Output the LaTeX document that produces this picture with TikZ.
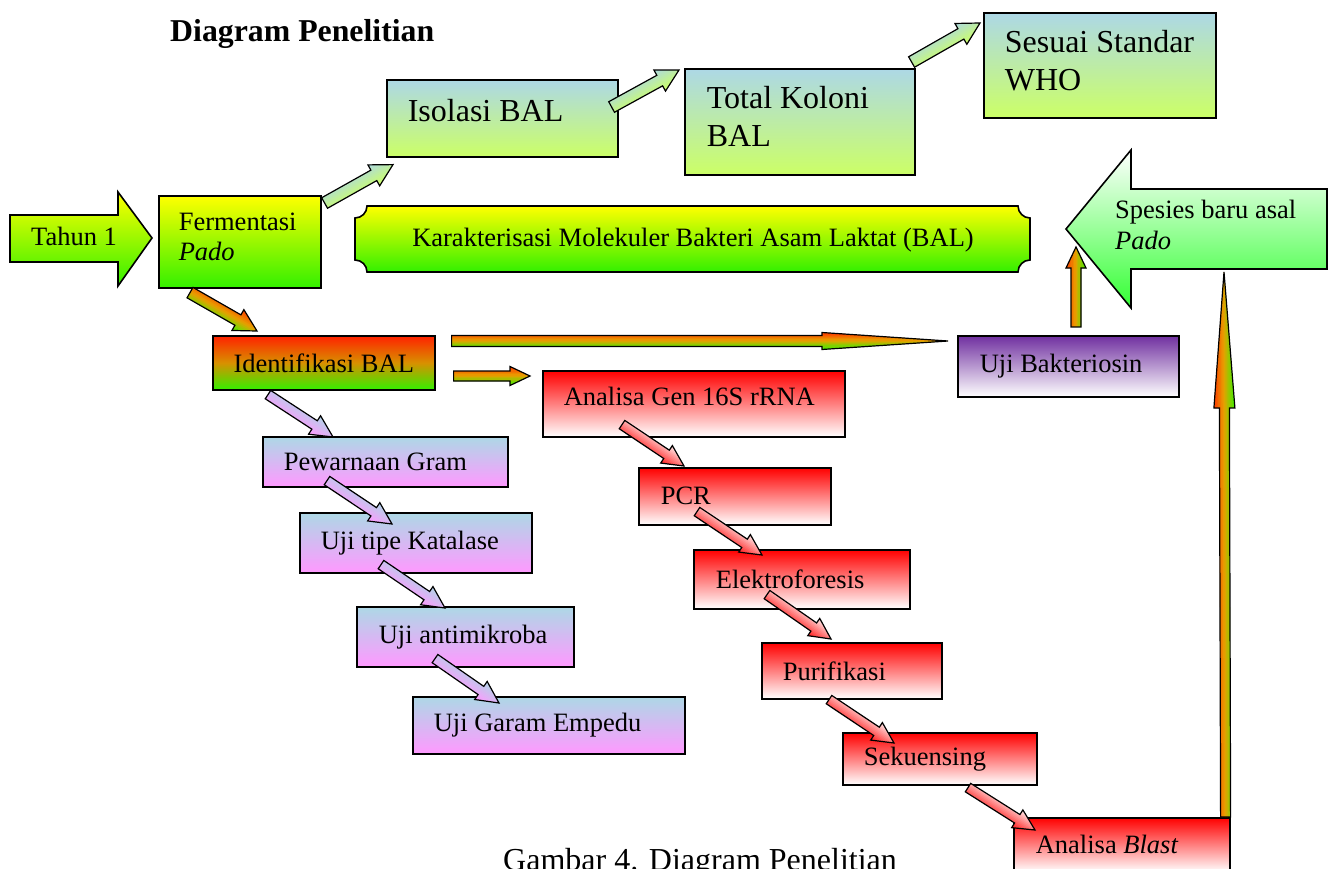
\documentclass[tikz,border=0pt]{standalone}
\usepackage{fontspec}
\setmainfont{Liberation Serif}
\usetikzlibrary{calc}
\definecolor{ylw}{HTML}{FFFF00}
\definecolor{grn}{HTML}{33F000}
\definecolor{lblue}{HTML}{ADD8E6}
\definecolor{lyg}{HTML}{CCFF66}
\definecolor{lpink}{HTML}{FF99FF}
\definecolor{rtop}{HTML}{FF0000}
\definecolor{purp}{HTML}{7030A0}
\definecolor{rgtop}{HTML}{FF2200}
\definecolor{rgmid}{HTML}{D89000}
\definecolor{sgrn}{HTML}{33FF33}
\definecolor{ogL}{HTML}{FF3300}
\definecolor{ogM}{HTML}{E8A000}
\definecolor{ogR}{HTML}{44EE00}
\colorlet{bgM}{lblue!50!lyg}
\colorlet{lpM}{lblue!50!lpink}
\definecolor{rdL}{HTML}{FFF0F0}
\definecolor{rdR}{HTML}{FF2020}
\colorlet{rdM}{rdL!50!rdR}
\newcommand\fsN{\fontsize{26.5pt}{30pt}\selectfont}
\newcommand\fsL{\fontsize{32pt}{38pt}\selectfont}
% block arrow: #1 left colour, #2 middle colour, #3 right colour, #4 start, #5 tip,
% #6 shaft half width, #7 head half width, #8 head length
\newcommand\blockarrow[8]{%
  \coordinate (bas) at #4;
  \coordinate (bae) at #5;
  \coordinate (bah) at ($(bae)!#8pt!(bas)$);
  \begin{scope}
    \clip ($(bas)!#6pt!90:(bae)$) -- ($(bah)!#6pt!90:(bae)$) -- ($(bah)!#7pt!90:(bae)$) -- (bae)
      -- ($(bah)!#7pt!-90:(bae)$) -- ($(bah)!#6pt!-90:(bae)$) -- ($(bas)!#6pt!-90:(bae)$) -- cycle;
    \foreach \k in {0,...,13}{%
      \pgfmathsetmacro\bofa{#7-2*#7*\k/14+0.4}%
      \pgfmathsetmacro\bofb{#7-2*#7*(\k+1)/14-0.4}%
      \pgfmathsetmacro\bt{(\k+0.5)/14}%
      \ifdim\bt pt<0.5pt
        \pgfmathsetmacro\bmix{100-200*\bt}%
        \fill[#1!\bmix!#2] ($(bas)!\bofa pt!90:(bae)$) -- ($(bae)!\bofa pt!-90:(bas)$) -- ($(bae)!\bofb pt!-90:(bas)$) -- ($(bas)!\bofb pt!90:(bae)$) -- cycle;
      \else
        \pgfmathsetmacro\bmix{200-200*\bt}%
        \fill[#2!\bmix!#3] ($(bas)!\bofa pt!90:(bae)$) -- ($(bae)!\bofa pt!-90:(bas)$) -- ($(bae)!\bofb pt!-90:(bas)$) -- ($(bas)!\bofb pt!90:(bae)$) -- cycle;
      \fi
    }
  \end{scope}
  \draw[arrline] ($(bas)!#6pt!90:(bae)$) -- ($(bah)!#6pt!90:(bae)$) -- ($(bah)!#7pt!90:(bae)$) -- (bae)
      -- ($(bah)!#7pt!-90:(bae)$) -- ($(bah)!#6pt!-90:(bae)$) -- ($(bas)!#6pt!-90:(bae)$) -- cycle;
}
\begin{document}
\begin{tikzpicture}[x=1pt,y=-1pt,
  box/.style={draw=black, line width=1.6pt, anchor=north west, inner ysep=0pt, align=flush left, font=\fsN},
  bigbox/.style={box, font=\fsL},
  yg/.style={top color=ylw, bottom color=grn},
  bly/.style={top color=lblue, bottom color=lyg},
  blp/.style={top color=lblue, bottom color=lpink},
  rw/.style={top color=rtop, bottom color=white},
  pw/.style={top color=purp, bottom color=white},
  rg/.style={top color=rgtop, bottom color=grn, middle color=rgmid},
  outline/.style={draw=black, line width=1.6pt},
  arrline/.style={draw=black, line width=1.2pt, line join=miter},
  plain/.style={inner sep=0pt, font=\fsN}]
\useasboundingbox (0,0) rectangle (1330,869);
\clip (0,0) rectangle (1330,869);
\fill[white] (0,0) rectangle (1330,869);

% title and caption
\node[anchor=base west, inner sep=0pt, font=\bfseries\fontsize{31.8pt}{38pt}\selectfont] (title) at (170,42) {Diagram Penelitian};
\node[anchor=base west, inner sep=0pt, font=\fsL] (caption) at (503,870) {Gambar 4. Diagram Penelitian};

% Tahun 1 block arrow
\path[outline, yg] (10,215) -- (118,215) -- (118,192) -- (152,238) -- (118,286) -- (118,262) -- (10,262) -- cycle;
\node[plain] (tahun) at (74,236) {Tahun 1};

% Spesies block arrow
\path[outline, top color=white, bottom color=sgrn] (1327,189) -- (1131,189) -- (1131,150) -- (1066,229) -- (1131,308) -- (1131,269) -- (1327,269) -- cycle;
\node[plain, anchor=north west, align=flush left, font=\fontsize{26.5pt}{31pt}\selectfont] (spes) at (1115,200) {Spesies baru asal\\\textit{Pado}};

% banner
\path[outline, yg] (367,206) -- (1018,206) .. controls (1018,212.6) and (1023.4,218) .. (1030,218)
  -- (1030,260) .. controls (1023.4,260) and (1018,265.4) .. (1018,272)
  -- (367,272) .. controls (367,265.4) and (361.6,260) .. (355,260)
  -- (355,218) .. controls (361.6,218) and (367,212.6) .. (367,206) -- cycle;
\node[plain] (karak) at (693,240) {Karakterisasi Molekuler Bakteri Asam Laktat (BAL)};

% boxes
\node[bigbox, bly, minimum width=231, minimum height=77, inner xsep=21, text width=189, text depth=15] (iso) at (386,79) {Isolasi BAL};
\node[bigbox, bly, minimum width=230, minimum height=106, inner xsep=22, text width=186, text depth=48] (total) at (684,68) {Total Koloni\\BAL};
\node[bigbox, bly, minimum width=232, minimum height=105, inner xsep=21, text width=190, text depth=47] (who) at (983,12) {\mbox{Sesuai Standar}\\WHO};
\node[box, yg, minimum width=162, minimum height=92, inner xsep=20, text width=122, text depth=40] (ferm) at (158,195) {Fermentasi\\\textit{Pado}};
\node[box, rg, minimum width=222, minimum height=54, align=center, inner xsep=0pt] (ident) at (212,335) {Identifikasi BAL};
\node[box, rw, minimum width=302, minimum height=66, inner xsep=21, text width=260, text depth=14] (analisa) at (542,370) {Analisa Gen 16S rRNA};
\node[box, rw, minimum width=192, minimum height=57, inner xsep=22, text width=148] (pcr) at (638,467) {PCR};
\node[box, rw, minimum width=216, minimum height=59, inner xsep=22, text width=172] (elek) at (693,549) {Elektroforesis};
\node[box, rw, minimum width=180, minimum height=56, inner xsep=21, text width=138] (puri) at (761,642) {Purifikasi};
\node[box, rw, minimum width=194, minimum height=52, inner xsep=21, text width=152] (sek) at (842,732) {Sekuensing};
\node[box, rw, minimum width=216, minimum height=54, inner xsep=22, text width=172] (blast) at (1013,817) {Analisa \textit{Blast}};
\node[box, pw, minimum width=221, minimum height=61, inner xsep=22, text width=177] (bakt) at (957,335) {\mbox{Uji Bakteriosin}};
\node[box, blp, minimum width=245, minimum height=50, inner xsep=21, text width=203] (gram) at (262,436) {Pewarnaan Gram};
\node[box, blp, minimum width=232, minimum height=60, inner xsep=21, text width=190] (kat) at (299,512) {\mbox{Uji tipe Katalase}};
\node[box, blp, minimum width=217, minimum height=60, inner xsep=22, text width=173] (anti) at (356,606) {\mbox{Uji antimikroba}};
\node[box, blp, minimum width=272, minimum height=57, inner xsep=21, text width=230] (empedu) at (412,696) {Uji Garam Empedu};

% connectors
\blockarrow{ogL}{ogM}{ogR}{($(ferm.south west)+(32,4)$)}{($(ident.north west)+(45,-4)$)}{6}{12}{22}
\blockarrow{lblue}{bgM}{lyg}{($(ferm.north east)+(3,8)$)}{($(iso.south west)+(7,7)$)}{6}{12}{22}
\blockarrow{lblue}{bgM}{lyg}{($(iso.north east)+(-7,28)$)}{($(total.north west)+(-5,2)$)}{6}{12}{22}
\blockarrow{lblue}{bgM}{lyg}{($(total.north east)+(-4,-6)$)}{($(who.north west)+(-3,11)$)}{6}{12}{22}
\blockarrow{ogL}{ogM}{ogR}{($(ident.north east)+(16,6)$)}{($(bakt.north west)+(-9,6)$)}{5.5}{8.5}{126}
\blockarrow{ogL}{ogM}{ogR}{($(ident.north east)+(18,41)$)}{($(analisa.north west)+(-12,6)$)}{5}{9.5}{20}
\blockarrow{ogL}{ogM}{ogR}{($(bakt.north west)+(119,-8)$)}{($(spes.north west)+(-39,47)$)}{5}{10}{21}
\blockarrow{ogL}{ogM}{ogR}{($(blast.north east)+(-5,0)$)}{($(spes.north west)+(109,72)$)}{5}{10.5}{136}

\blockarrow{lblue}{lpM}{lpink}{($(ident.south west)+(56,4)$)}{($(gram.north west)+(71,1)$)}{5}{11}{22}
\blockarrow{lblue}{lpM}{lpink}{($(gram.south west)+(65,-7)$)}{($(kat.north west)+(93,12)$)}{5}{11}{22}
\blockarrow{lblue}{lpM}{lpink}{($(kat.south west)+(82,-9)$)}{($(anti.north west)+(89,2)$)}{5}{11}{22}
\blockarrow{lblue}{lpM}{lpink}{($(anti.south west)+(79,-9)$)}{($(empedu.north west)+(87,7)$)}{5}{11}{22}

\blockarrow{rdL}{rdM}{rdR}{($(analisa.south west)+(80,-13)$)}{($(pcr.north west)+(46,-1)$)}{5}{10.5}{21}
\blockarrow{rdL}{rdM}{rdR}{($(pcr.south west)+(59,-14)$)}{($(elek.north west)+(69,6)$)}{5}{10.5}{21}
\blockarrow{rdL}{rdM}{rdR}{($(elek.south west)+(74,-15)$)}{($(puri.north west)+(70,-3)$)}{5}{10.5}{21}
\blockarrow{rdL}{rdM}{rdR}{($(puri.south west)+(68,0)$)}{($(sek.north west)+(52,11)$)}{5}{10.5}{21}
\blockarrow{rdL}{rdM}{rdR}{($(sek.south west)+(126,2)$)}{($(blast.north west)+(22,13)$)}{5}{10.5}{21}
\end{tikzpicture}
\end{document}
